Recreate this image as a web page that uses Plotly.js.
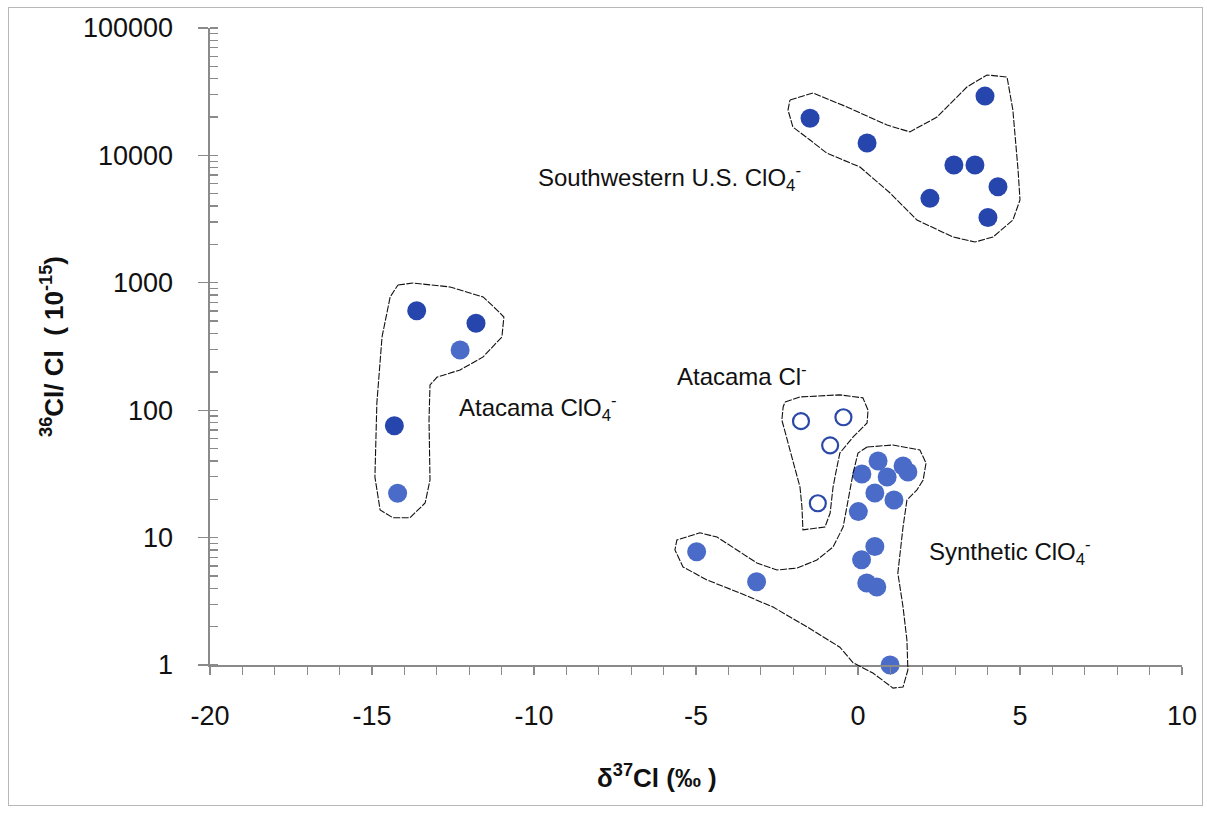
<!DOCTYPE html>
<html>
<head>
<meta charset="utf-8">
<script src="https://cdn.plot.ly/plotly-3.0.1.min.js"></script>
<style>
  html, body { margin: 0; padding: 0; background: #fff; }
  #wrap { position: relative; width: 1207px; height: 819px; }
  #chart { position: absolute; left: 0; top: 0; width: 1207px; height: 819px; }
  #frame { position: absolute; left: 8px; top: 7px; width: 1193px; height: 797px;
           border: 1px solid #b8b8b8; pointer-events: none; }
</style>
</head>
<body>
<div id="wrap">
  <div id="chart"></div>
  <div id="frame"></div>
</div>
<script>
// ---------- data (delta37Cl in permil, 36Cl/Cl in 1e-15) ----------
const swX = [-1.48, 0.28, 3.92, 2.96, 3.61, 2.22, 4.32, 4.01];
const swY = [19600, 12500, 29200, 8400, 8400, 4600, 5680, 3250];

const atPerDarkX = [-13.62, -11.79, -14.31];
const atPerDarkY = [604, 481, 75.6];
const atPerLightX = [-12.28, -14.21];
const atPerLightY = [297, 22.3];

const atClX = [-1.76, -0.45, -0.86, -1.24];
const atClY = [82, 88, 53, 18.6];

const synX = [-4.98, -3.13, 0.01, 0.52, 0.11, 0.27, 0.58, 0.99, 0.62, 0.12, 0.90, 1.39, 1.54, 0.52, 1.11];
const synY = [7.75, 4.51, 16.0, 8.5, 6.7, 4.4, 4.1, 1.0, 39.9, 31.6, 29.9, 36.5, 32.7, 22.4, 19.7];

// hand-drawn group outlines (data units)
const swOutX = [-2.10, -1.39, -0.34, 0.90, 1.60, 2.44, 3.36, 3.98, 4.60, 4.78, 4.94, 5.00, 4.78, 4.17, 3.61, 2.93, 1.82, 0.99, 0.06, -0.96, -1.48, -2.01, -2.16, -2.10];
const swOutY = [27200, 30900, 24000, 17300, 15300, 20000, 34400, 42800, 41200, 22700, 7680, 4470, 3110, 2290, 2090, 2290, 3110, 5070, 8110, 10400, 13200, 16700, 22700, 27200];

const atPerOutX = [-14.20, -13.73, -12.59, -11.57, -11.14, -10.93, -10.99, -11.57, -12.28, -12.99, -13.21, -13.24, -13.21, -13.36, -13.83, -14.35, -14.75, -14.91, -14.85, -14.69, -14.44, -14.20];
const atPerOutY = [961, 996, 927, 774, 611, 539, 376, 262, 207, 182, 158, 83.8, 28.3, 18.7, 14.3, 14.3, 16.5, 29.9, 114, 376, 774, 961];

const atClOutX = [-2.25, -1.79, -0.56, 0.15, 0.31, 0.28, -0.15, -0.56, -0.65, -0.77, -0.86, -1.02, -1.70, -1.73, -1.79, -2.01, -2.19, -2.35, -2.31, -2.25];
const atClOutY = [116, 127, 132, 125, 100, 79.4, 61.7, 46.1, 35.8, 24.9, 15.6, 12.1, 11.5, 17.4, 24.9, 40.6, 58.3, 83.8, 106, 116];

const synOutX = [0.28, 1.08, 1.91, 2.10, 2.01, 1.82, 1.51, 1.39, 1.30, 1.23, 1.39, 1.51, 1.54, 1.39, 1.08, 0.46, -0.15, -0.56, -1.57, -2.62, -3.64, -4.66, -5.40, -5.65, -5.59, -4.88, -4.35, -3.73, -3.12, -2.50, -1.88, -1.27, -0.77, -0.46, -0.31, -0.15, 0.0, 0.28];
const synOutY = [51.4, 53.3, 48.7, 38.5, 28.3, 23.7, 19.7, 12.1, 7.57, 5.27, 2.85, 1.57, 0.914, 0.672, 0.659, 0.865, 1.04, 1.38, 1.99, 2.85, 3.67, 4.65, 5.88, 8.0, 9.58, 10.9, 10.1, 8.0, 6.32, 5.57, 5.77, 6.67, 8.44, 12.1, 19.7, 32.1, 46.1, 51.4];

const xTickVals = [-20, -15, -10, -5, 0, 5, 10];
const xTickText = ['-20', '-15', '-10', '-5', '0', '5', '10'];
const yTickVals = [1, 10, 100, 1000, 10000, 100000];
const yTickText = ['1', '10', '100', '1000', '10000', '100000'];

const groupLabels = ['Southwestern U.S. ClO<sub>4</sub><sup>-</sup>', 'Atacama ClO<sub>4</sub><sup>-</sup>', 'Atacama Cl<sup>-</sup>', 'Synthetic ClO<sub>4</sub><sup>-</sup>'];
const labelX = [-9.95, -12.38, -5.65, 2.13];
const labelY = [6700, 104, 189, 7.7];

// ---------- styling ----------
const DARK = '#2746ad';
const MID = '#4a6bc7';
const FONT = 'Liberation Sans, Arial, sans-serif';
const AX = '#8a8a8a';

const W = 1207, H = 819;
const M = {l: 210, r: 25, t: 28, b: 124};
const axisBottomPx = 665;
const plotH = H - M.t - M.b;
const d = (H - M.b - axisBottomPx) / plotH;
const y2min = -5 * d / (1 - d);

function outline(x, y) {
  return {x: x, y: y, type: 'scatter', mode: 'lines', xaxis: 'x2', yaxis: 'y2',
          line: {color: '#111', width: 1.1, dash: '7px,1.5px'}, hoverinfo: 'skip', showlegend: false};
}
function pts(x, y, color, name) {
  return {x: x, y: y, type: 'scatter', mode: 'markers', name: name, showlegend: false,
          marker: {size: 19, color: color, line: {width: 0}}, cliponaxis: false};
}

const traces = [
  outline(swOutX, swOutY),
  outline(atPerOutX, atPerOutY),
  outline(atClOutX, atClOutY),
  outline(synOutX, synOutY),
  pts(swX, swY, DARK, 'Southwestern U.S. ClO4-'),
  pts(atPerDarkX, atPerDarkY, DARK, 'Atacama ClO4-'),
  pts(atPerLightX, atPerLightY, MID, 'Atacama ClO4-'),
  pts(synX, synY, MID, 'Synthetic ClO4-'),
  {x: atClX, y: atClY, type: 'scatter', mode: 'markers', name: 'Atacama Cl-', showlegend: false,
   marker: {size: 16, color: 'rgba(255,255,255,1)', line: {width: 2.2, color: '#2a48a8'}}}
];

const annotations = groupLabels.map((t, i) => ({
  text: t, x: labelX[i], y: Math.log10(labelY[i]), xref: 'x', yref: 'y',
  xanchor: 'left', yanchor: 'middle', showarrow: false,
  font: {family: FONT, size: 24, color: '#111'}
}));
annotations.push({
  text: '<b>δ<sup>37</sup>Cl (‰ )</b>', xref: 'paper', yref: 'paper',
  x: (657 - M.l) / (W - M.l - M.r), y: (H - M.b - 776) / plotH,
  xanchor: 'center', yanchor: 'middle', showarrow: false,
  font: {family: FONT, size: 26, color: '#111'}
});

const layout = {
  width: W, height: H,
  margin: M,
  paper_bgcolor: 'rgba(0,0,0,0)',
  plot_bgcolor: 'rgba(0,0,0,0)',
  showlegend: false,
  font: {family: FONT, color: '#111'},
  xaxis: {
    range: [-20, 10], domain: [0, 1], anchor: 'y',
    tickmode: 'array', tickvals: xTickVals, ticktext: xTickText,
    ticks: 'outside', ticklen: 8, tickwidth: 1.3, tickcolor: AX,
    showline: true, linecolor: AX, linewidth: 1.6, showgrid: false, zeroline: false,
    tickfont: {family: FONT, size: 27, color: '#111'}, ticklabelstandoff: 18,
    minor: {dtick: 1, tick0: 0, ticks: 'outside', ticklen: 8, tickwidth: 1.3, tickcolor: AX, showgrid: false}
  },
  yaxis: {
    type: 'log', range: [0, 5], domain: [d, 1], anchor: 'x',
    tickmode: 'array', tickvals: yTickVals, ticktext: yTickText,
    ticks: 'outside', ticklen: 10, tickwidth: 1.3, tickcolor: AX,
    showline: true, linecolor: AX, linewidth: 1.6, showgrid: false, zeroline: false,
    tickfont: {family: FONT, size: 27, color: '#111'}, ticklabelstandoff: 20,
    minor: {dtick: 'D1', ticks: 'inside', ticklen: 8, tickwidth: 1.3, tickcolor: AX, showgrid: false},
    title: {text: '<b><sup>36</sup>Cl/ Cl  ( 10<sup>-15</sup>)</b>', standoff: 12,
            font: {family: FONT, size: 26, color: '#111'}}
  },
  xaxis2: {range: [-20, 10], domain: [0, 1], anchor: 'y2', visible: false, fixedrange: true},
  yaxis2: {type: 'log', range: [y2min, 5], domain: [0, 1], anchor: 'x2', visible: false, fixedrange: true},
  annotations: annotations
};

Plotly.newPlot('chart', traces, layout, {displayModeBar: false, staticPlot: true});
</script>
</body>
</html>
